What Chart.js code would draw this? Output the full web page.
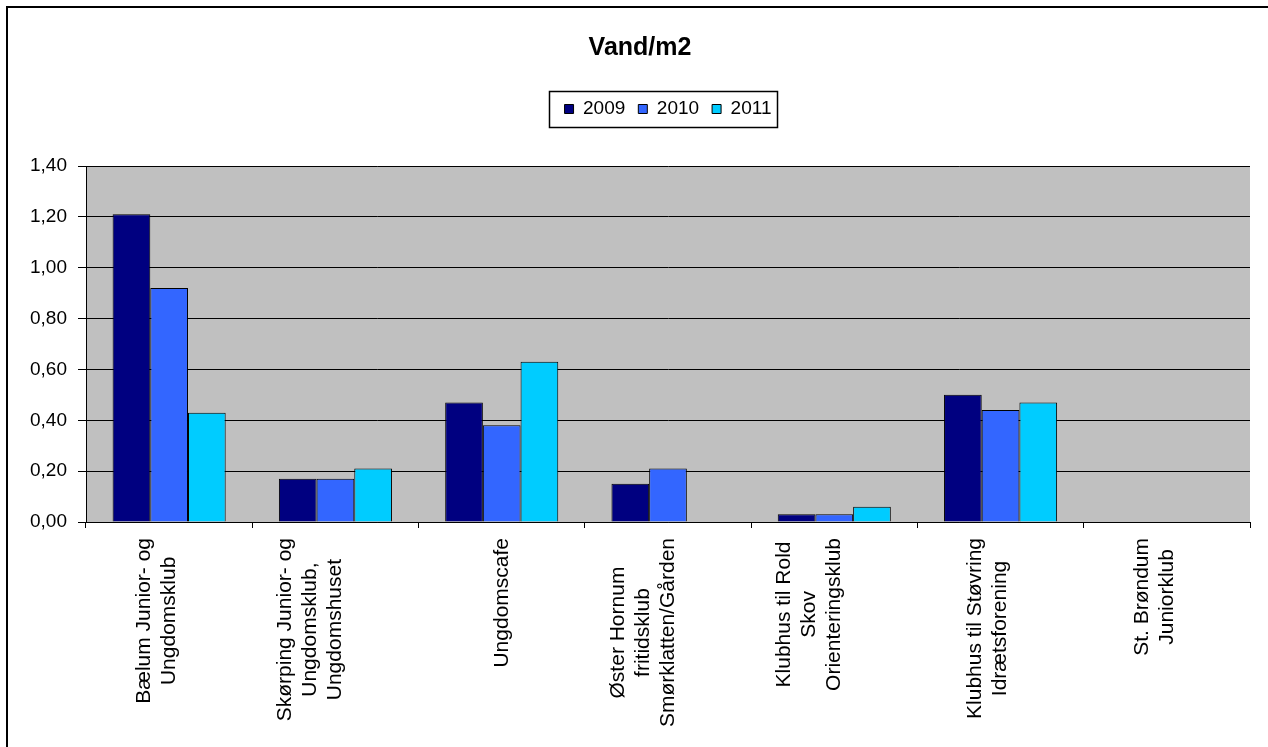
<!DOCTYPE html>
<html>
<head>
<meta charset="utf-8">
<title>Vand/m2</title>
<script src="https://cdn.jsdelivr.net/npm/chart.js@4/dist/chart.umd.min.js"></script>
<style>
    html, body { margin: 0; padding: 0; background: #ffffff; }
    canvas { display: block; }
</style>
</head>
<body>
<canvas id="waterChart" width="1268" height="747"></canvas>
<script>
'use strict'

// Category names, one array per category so the original line breaks are kept.
const categories = [
    ['Bælum Junior- og', 'Ungdomsklub'],
    ['Skørping Junior- og', 'Ungdomsklub,', 'Ungdomshuset'],
    ['Ungdomscafe'],
    ['Øster Hornum', 'fritidsklub', 'Smørklatten/Gården'],
    ['Klubhus til Rold', 'Skov', 'Orienteringsklub'],
    ['Klubhus til Støvring', 'Idrætsforening'],
    ['St. Brøndum', 'Juniorklub']
];

const seriesNames = ['2009', '2010', '2011'];
const values2009 = [1.21, 0.17, 0.47, 0.15, 0.03, 0.50, null];
const values2010 = [0.92, 0.17, 0.38, 0.21, 0.03, 0.44, null];
const values2011 = [0.43, 0.21, 0.63, null, 0.06, 0.47, null];

const yTickValues = [0, 0.2, 0.4, 0.6, 0.8, 1.0, 1.2, 1.4];
const yTickLabels = ['0,00', '0,20', '0,40', '0,60', '0,80', '1,00', '1,20', '1,40'];

const FONT = '"Liberation Sans", Arial, sans-serif';
const seriesColors = ['#000080', '#3366FF', '#00CCFF'];

window.onload = function() {
    printWaterChart();
}

/**
 * Paints the white page, the outer frame and the grey plot background.
 */
const chartFrame = {
    id: 'chartFrame',
    beforeDraw(chart) {
        const ctx = chart.ctx;
        const area = chart.chartArea;

        ctx.save();
        ctx.fillStyle = '#ffffff';
        ctx.fillRect(0, 0, chart.width, chart.height);

        // Only the top and left edges of the frame are inside the picture.
        ctx.fillStyle = '#000000';
        ctx.fillRect(6, 6, chart.width, 2);
        ctx.fillRect(6, 6, 2, chart.height);

        ctx.fillStyle = '#C0C0C0';
        ctx.fillRect(area.left, area.top, area.right - area.left, area.bottom - area.top);
        ctx.restore();
    }
};

/**
 * Draws the black box round the legend items.
 */
const legendFrame = {
    id: 'legendFrame',
    afterDraw(chart) {
        const boxes = chart.legend.legendHitBoxes;
        if (!boxes || !boxes.length) {
            return;
        }
        const first = boxes[0];
        const last = boxes[boxes.length - 1];
        const left = Math.round(first.left - 16);
        const right = Math.round(last.left + last.width + 6);
        const middle = Math.round(first.top + first.height / 2);
        const ctx = chart.ctx;

        ctx.save();
        ctx.strokeStyle = '#000000';
        ctx.lineWidth = 1.5;
        ctx.strokeRect(left + 0.5, middle - 18 + 0.5, right - left, 36);
        ctx.restore();
    }
};

/**
 * Writes the rotated category names under the x axis, lines centred on each other.
 */
const categoryLabels = {
    id: 'categoryLabels',
    afterDraw(chart) {
        const ctx = chart.ctx;
        const xScale = chart.scales.x;
        const lineHeight = 25;

        ctx.save();
        ctx.font = '21px ' + FONT;
        ctx.fillStyle = '#000000';
        ctx.textAlign = 'center';
        ctx.textBaseline = 'middle';

        categories.forEach((lines, i) => {
            const widest = Math.max(...lines.map((line) => ctx.measureText(line).width));

            ctx.save();
            ctx.translate(xScale.getPixelForValue(i), xScale.top + 16 + widest / 2);
            ctx.rotate(-Math.PI / 2);
            lines.forEach((line, j) => {
                ctx.fillText(line, 0, (j - lines.length + 1) * lineHeight);
            });
            ctx.restore();
        });
        ctx.restore();
    }
};

function printWaterChart() {
    const ctx = document.getElementById('waterChart').getContext('2d');
    const seriesValues = [values2009, values2010, values2011];

    const waterChart = new Chart(ctx, {
        type: 'bar',
        data: {
            labels: categories,
            datasets: seriesNames.map((name, i) => ({
                label: name,
                data: seriesValues[i],
                backgroundColor: seriesColors[i],
                borderColor: '#000000',
                borderWidth: 1,
                categoryPercentage: 0.68,
                barPercentage: 1.0
            }))
        },
        options: {
            responsive: false,
            animation: false,
            devicePixelRatio: 1,
            layout: {
                padding: { top: 0, right: 18, bottom: 0, left: 30 }
            },
            scales: {
                x: {
                    offset: true,
                    grid: {
                        offset: true,
                        drawOnChartArea: false,
                        color: '#000000',
                        tickLength: 6
                    },
                    border: { color: '#000000' },
                    ticks: { display: false },
                    afterFit: function(scale) {
                        scale.height = 225;
                    }
                },
                y: {
                    min: 0,
                    max: 1.4,
                    grid: {
                        color: '#000000',
                        tickLength: 8
                    },
                    border: { color: '#000000' },
                    ticks: {
                        color: '#000000',
                        padding: 11,
                        font: { family: FONT, size: 19 },
                        callback: function(value, index) {
                            return yTickLabels[index];
                        }
                    },
                    afterBuildTicks: function(scale) {
                        scale.ticks = yTickValues.map((v) => ({ value: v }));
                    },
                    afterFit: function(scale) {
                        scale.width = 56;
                    }
                }
            },
            plugins: {
                title: {
                    display: true,
                    text: 'Vand/m2',
                    color: '#000000',
                    font: { family: FONT, size: 25, weight: 'bold', lineHeight: 1.2 },
                    padding: { top: 33, bottom: 23.5 }
                },
                // Empty subtitle used as the gap between the legend and the plot.
                subtitle: {
                    display: true,
                    text: '',
                    weight: 500,
                    font: { size: 10, lineHeight: 1.2 },
                    padding: { top: 0, bottom: 25.5 }
                },
                legend: {
                    display: true,
                    position: 'top',
                    fullSize: false,
                    labels: {
                        color: '#000000',
                        font: { family: FONT, size: 19 },
                        boxWidth: 9,
                        boxHeight: 9,
                        padding: 13
                    }
                },
                tooltip: { enabled: false }
            }
        },
        plugins: [chartFrame, legendFrame, categoryLabels]
    });
}
</script>
</body>
</html>
